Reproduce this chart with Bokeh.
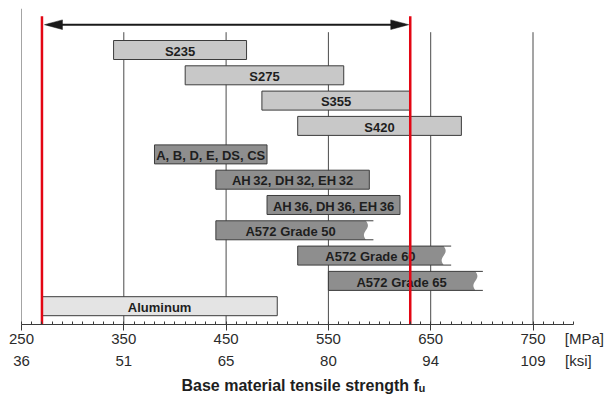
import numpy as np
from bokeh.plotting import figure
from bokeh.models import ColumnDataSource, Range1d, FixedTicker, LinearAxis, Title
from bokeh.embed import file_html
from bokeh.resources import INLINE
from bokeh.core.properties import value

# ---------------- data ----------------
materials = ["S235", "S275", "S355", "S420",
             "A, B, D, E, DS, CS",
             "AH\u200932, DH\u200932, EH\u200932",
             "AH\u200936, DH\u200936, EH\u200936",
             "A572 Grade 50", "A572 Grade 60", "A572 Grade 65",
             "Aluminum"]
tensile_min = [340, 410, 485, 520, 380, 440, 490, 440, 520, 550, 270]
tensile_max = [470, 565, 630, 680, 490, 590, 620, 594, 670, 701, 500]
kind = ["S", "S", "S", "S", "A", "A", "A", "W", "W", "W", "AL"]   # W = open-ended (wavy) bar
group = [0, 0, 0, 0, 1, 1, 1, 1, 1, 1, 1]

mpa_ticks = [250, 350, 450, 550, 650, 750]
ksi_labels = ["36", "51", "65", "80", "94", "109"]
mpa_unit, ksi_unit = "[MPa]", "[ksi]"
weld_range = [270, 630]        # red limits
axis_end = 790
x_title = "Base material tensile strength f\u1d64"

# ---------------- layout helpers ----------------
PXX = 1 / 1.023     # MPa per pixel
PXY = 1 / 25.3      # row units per pixel
GROUP_GAP = 0.126
HALF = 9.5 * PXY

FILL = {"S": "#c8c8c8", "A": "#8e8e8e", "W": "#8e8e8e", "AL": "#e4e4e4"}
EDGE = "#3c3c3c"
RED = "#e30613"
FONT = "Liberation Sans"
TXT = "#2b2b2b"

ypos = [-(i + g * GROUP_GAP) for i, g in enumerate(group)]

y_top = (49.5 - 8) * PXY
y_bot = -(324 - 49.5) * PXY

p = figure(width=606, height=400, output_backend="svg", toolbar_location=None,
           x_range=Range1d(250, 250 + 585 * PXX), y_range=Range1d(y_bot, y_top),
           min_border_left=21, min_border_right=0, min_border_top=8, min_border_bottom=76)
p.outline_line_color = None
p.xgrid.visible = False
p.ygrid.visible = False
p.yaxis.visible = False
p.background_fill_color = "white"

# vertical grid lines and left frame line
grid_x = mpa_ticks[1:]
p.segment(x0=grid_x, x1=grid_x, y0=[0.704] * len(grid_x), y1=[y_bot] * len(grid_x),
          line_color="#4a4a4a", line_width=1)
p.segment(x0=[mpa_ticks[0]], x1=[mpa_ticks[0]], y0=[y_top], y1=[y_bot],
          line_color="#4a4a4a", line_width=1)

# solid bars
normal = [i for i, k in enumerate(kind) if k != "W"]
src_n = ColumnDataSource(dict(
    left=[tensile_min[i] for i in normal], right=[tensile_max[i] for i in normal],
    top=[ypos[i] + HALF for i in normal], bottom=[ypos[i] - HALF for i in normal],
    fill=[FILL[kind[i]] for i in normal]))
p.quad(left="left", right="right", top="top", bottom="bottom", source=src_n,
       fill_color="fill", line_color=EDGE, line_width=1)

# open-ended (wavy) bars
wavy = [i for i, k in enumerate(kind) if k == "W"]
t = np.linspace(0, 1, 30)
xs, ys, lx, ly = [], [], [], []
for i in wavy:
    lo, hi, yc = tensile_min[i], tensile_max[i], ypos[i]
    top, bot = yc + HALF, yc - HALF
    edge_x = hi - (7.5 - 2.0 * np.sin(2 * np.pi * t)) * PXX
    edge_y = top - t * (top - bot)
    xs.append([lo] + list(edge_x) + [lo])
    ys.append([top] + list(edge_y) + [bot])
    lx += [[lo, hi], [lo, hi], [lo, lo]]
    ly += [[top, top], [bot, bot], [top, bot]]
p.patches(xs=xs, ys=ys, fill_color=FILL["W"], line_color=None)
p.multi_line(xs=lx, ys=ly, line_color=EDGE, line_width=1)

# bar labels
cx = [(tensile_min[i] + tensile_max[i] - (8 * PXX if kind[i] == "W" else 0)) / 2
      for i in range(len(materials))]
p.text(x=cx, y=[y - 0.05 for y in ypos], text=materials, text_align="center",
       text_baseline="middle", text_font=value(FONT), text_font_style="bold",
       text_font_size="13px", text_color="#1e1e1e")

# red limits
p.segment(x0=weld_range, x1=weld_range, y0=[(49.5 - 15.7) * PXY] * 2, y1=[y_bot] * 2,
          line_color=RED, line_width=2.5)

# double arrow between the limits
ay = 1.0
tip_l = weld_range[0] + 2.5 * PXX
tip_r = weld_range[1] - 1.5 * PXX
hl = 18 * PXX
hw = 4.8 * PXY
p.segment(x0=[tip_l + 4 * PXX], x1=[tip_r - 4 * PXX], y0=[ay], y1=[ay],
          line_color="#1a1a1a", line_width=2)
p.patches(xs=[[tip_l, tip_l + hl, tip_l + hl], [tip_r, tip_r - hl, tip_r - hl]],
          ys=[[ay, ay + hw, ay - hw], [ay, ay + hw, ay - hw]],
          fill_color="#1a1a1a", line_color="#1a1a1a", line_width=0.5)

# axis 1: line, ticks and MPa labels
ax = p.xaxis[0]
ax.ticker = FixedTicker(ticks=mpa_ticks, minor_ticks=list(range(250, axis_end + 1, 10)))
ax.bounds = (250, axis_end)
ax.axis_line_color = "#3a3a3a"
ax.major_tick_line_color = "#3a3a3a"
ax.minor_tick_line_color = "#3a3a3a"
ax.major_tick_out = 6
ax.major_tick_in = 0
ax.minor_tick_in = 3
ax.minor_tick_out = 0
ax.major_label_standoff = 3
ax.major_label_text_font = FONT
ax.major_label_text_font_size = "15px"
ax.major_label_text_color = TXT


def label_axis(ticks, overrides, standoff):
    a = LinearAxis(ticker=FixedTicker(ticks=ticks, minor_ticks=[]),
                   major_label_overrides=overrides,
                   axis_line_color=None, major_tick_line_color=None, minor_tick_line_color=None,
                   major_tick_out=0, major_tick_in=0, minor_tick_out=0, minor_tick_in=0,
                   major_label_standoff=standoff, major_label_text_font=FONT,
                   major_label_text_font_size="15px", major_label_text_color=TXT)
    p.add_layout(a, "below")
    return a


# axis 2: unit of the MPa row (lifted into that row), axis 3: ksi row
label_axis([800.3], {800.3: mpa_unit}, -17)
ksi_over = dict(zip(mpa_ticks, ksi_labels))
ksi_over[794.3] = ksi_unit
label_axis(mpa_ticks + [794.3], ksi_over, 2)

# axis title
p.add_layout(Title(text=x_title, align="left", offset=160, text_font=FONT,
                   text_font_style="bold", text_font_size="16px", text_color="#1e1e1e",
                   standoff=7), "below")

open("out.html", "w").write(file_html(p, INLINE))
